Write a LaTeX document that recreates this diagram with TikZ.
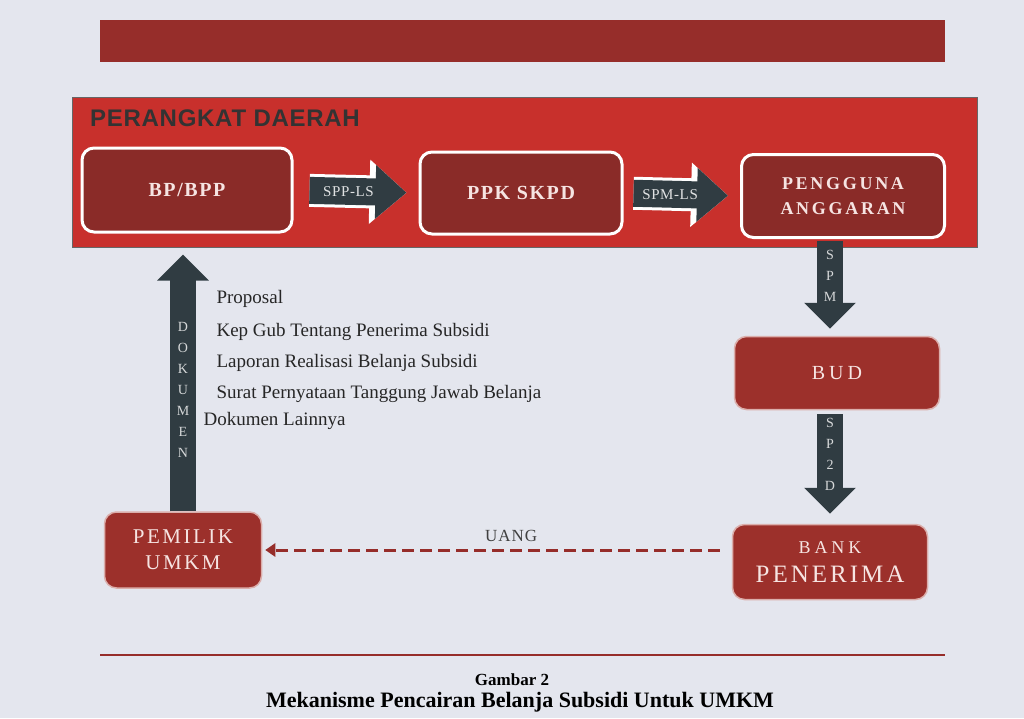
\documentclass[tikz,border=0pt]{standalone}
\usepackage{fontspec}
\setmainfont{Liberation Serif}
\newfontfamily\headfont{Liberation Sans}
\usetikzlibrary{arrows.meta}

\definecolor{paper}{RGB}{228,230,238}
\definecolor{barred}{RGB}{150,45,42}
\definecolor{panelred}{RGB}{200,48,44}
\definecolor{boxdark}{RGB}{138,43,40}
\definecolor{boxred}{RGB}{156,48,43}
\definecolor{slate}{RGB}{48,60,66}
\definecolor{boxtext}{RGB}{246,228,226}

\tikzset{
  pdbox/.style={rounded corners=12pt, fill=boxdark, draw=white, line width=3pt,
    text=boxtext, align=center, inner sep=0pt},
  flowbox/.style={rounded corners=12pt, fill=boxred, draw=boxtext!70!boxred, line width=1.5pt,
    text=boxtext, align=center, inner sep=0pt},
  hflow/.style={draw=slate, line width=27pt, -{Triangle[length=31pt,width=52pt]},
    preaction={draw=white, line width=33pt, -{Triangle[length=37pt,width=62pt]}}},
  vflow/.style={draw=slate, line width=26pt, -{Triangle[length=26pt,width=50pt]}},
  arrtext/.style={text=white!85!slate, font=\fontsize{15}{15}\selectfont\addfontfeature{LetterSpace=4}},
  stacktext/.style={text=white!80!slate, align=center, font=\fontsize{14}{21}\selectfont},
  money/.style={draw=barred, line width=3pt, dash pattern=on 12pt off 6pt,
    -{Triangle[length=10pt,width=13pt]}},
  doclist/.style={anchor=base west, text=black!85, font=\fontsize{19}{19}\selectfont},
}

\begin{document}
\begin{tikzpicture}[x=1pt,y=-1pt]
  \fill[paper] (0,0) rectangle (1024,718);
  \useasboundingbox (0,0) rectangle (1024,718);

  % header bar and panel
  \fill[barred] (100,20) rectangle (945,62);
  \filldraw[fill=panelred, draw=black!60, line width=1pt] (72,97) rectangle (977,247);
  \node[anchor=west, inner sep=0pt, text=black!80,
    font=\headfont\bfseries\fontsize{24}{24}\selectfont\addfontfeature{LetterSpace=3}]
    (title) at (90,118) {PERANGKAT DAERAH};

  % boxes
  \node[pdbox, minimum width=210, minimum height=84,
    font=\bfseries\fontsize{20}{20}\selectfont\addfontfeature{LetterSpace=8}] (bp) at (187,190) {BP/BPP};
  \node[pdbox, minimum width=202, minimum height=82,
    font=\bfseries\fontsize{20}{20}\selectfont\addfontfeature{LetterSpace=8}] (ppk) at (521,193) {PPK SKPD};
  \node[pdbox, minimum width=203, minimum height=83,
    font=\bfseries\fontsize{18}{25}\selectfont\addfontfeature{LetterSpace=15}] (pa) at (843,196) {PENGGUNA\\ANGGARAN};
  \node[flowbox, minimum width=205, minimum height=73,
    font=\fontsize{20}{20}\selectfont\addfontfeature{LetterSpace=20}] (bud) at (837,373) {BUD};
  \node[flowbox, minimum width=195, minimum height=75, font=\fontsize{25}{29}\selectfont] (bank) at (830,562)
    {{\fontsize{18}{18}\selectfont\addfontfeature{LetterSpace=22}BANK}\\
     {\addfontfeature{LetterSpace=12}PENERIMA}};
  \node[flowbox, minimum width=157, minimum height=76,
    font=\fontsize{21}{26}\selectfont\addfontfeature{LetterSpace=12}] (umkm) at (183,550) {PEMILIK\\UMKM};

  % flows
  \draw[hflow, shorten <=16pt, shorten >=12pt] (bp.east) -- node[arrtext, pos=0.44] {SPP-LS} (ppk.west);
  \draw[hflow, shorten <=10pt, shorten >=12pt] (ppk.east) -- node[arrtext, pos=0.4] {SPM-LS} (pa.west);
  \draw[vflow, shorten <=2pt, shorten >=7pt] (pa.south -| bank.north) -- (bud.north -| bank.north);
  \node[stacktext] (spm) at (830,276) {S\\P\\M};
  \draw[vflow, shorten <=4pt, shorten >=10pt] (bud.south -| bank.north) -- (bank.north);
  \node[stacktext] (sp2d) at (830,454) {S\\P\\2\\D};
  \draw[vflow, shorten >=21pt] (umkm.north) -- (umkm.north |- bp.south);
  \node[stacktext] (dok) at (183,390) {D\\O\\K\\U\\M\\E\\N};
  \draw[money, shorten <=12pt, shorten >=3pt] (umkm.east -| bank.west) -- node[pos=0.47, above=4pt,
    text=black!75, font=\fontsize{17}{17}\selectfont\addfontfeature{LetterSpace=6}] (uang) {UANG} (umkm.east);

  % documents
  \foreach \i/\x/\y/\t in {1/213/303/Proposal, 2/213/336/Kep Gub Tentang Penerima Subsidi,
      3/213/367/Laporan Realisasi Belanja Subsidi, 4/213/398/Surat Pernyataan Tanggung Jawab Belanja,
      5/200/425/Dokumen Lainnya}
    \node[doclist] (doc\i) at (\x,\y) {\t};

  % caption
  \draw[barred, line width=2pt] (100,655) -- (945,655);
  \node[font=\bfseries\fontsize{17}{17}\selectfont] (gambar) at (512,680) {Gambar 2};
  \node[font=\bfseries\fontsize{22}{22}\selectfont] (judul) at (520,702) {Mekanisme Pencairan Belanja Subsidi Untuk UMKM};
\end{tikzpicture}
\end{document}
